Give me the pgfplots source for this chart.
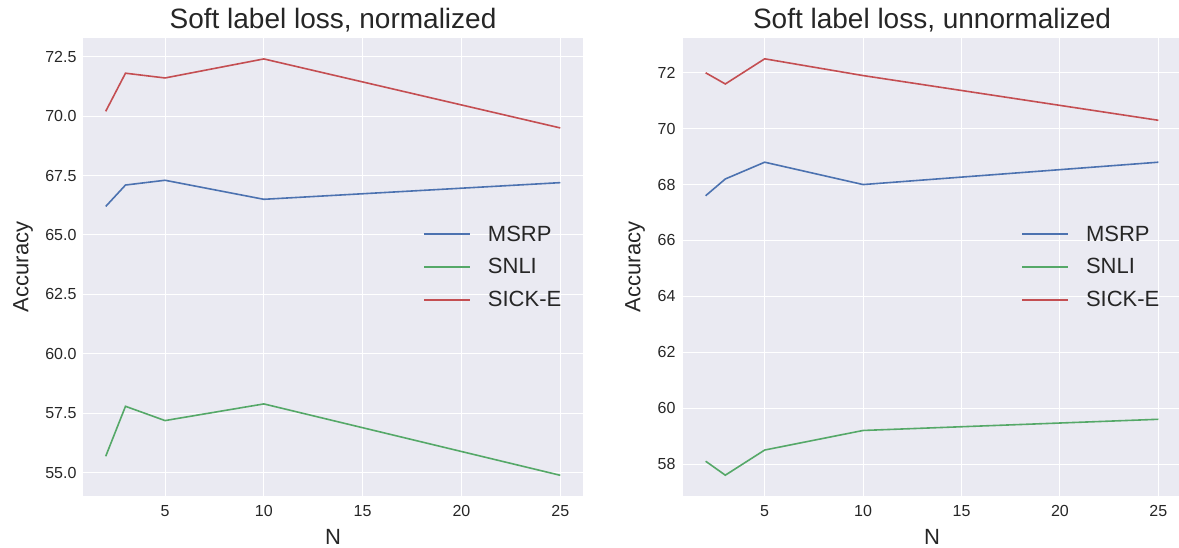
\documentclass[border=0pt]{standalone}
\usepackage{fontspec}
\setmainfont{Liberation Sans}
\usepackage{pgfplots}
\pgfplotsset{compat=1.18}
\definecolor{bg}{HTML}{EAEAF2}
\definecolor{sblue}{HTML}{4C72B0}
\definecolor{sgreen}{HTML}{55A868}
\definecolor{sred}{HTML}{C44E52}
\definecolor{txt}{HTML}{262626}

\pgfplotsset{
  sns/.style={
    scale only axis, height=458pt,
    axis background/.style={fill=bg},
    axis line style={draw=none},
    grid=major, major grid style={white, line width=1pt},
    tick style={draw=none},
    xtick={5,10,15,20,25},
    xmin=0.85, xmax=26.15,
    ticklabel style={font=\fontsize{16}{16}\selectfont, text=txt},
    xticklabel style={anchor=center, yshift=-15pt},
    yticklabel style={anchor=east, xshift=-3pt},
    /pgf/number format/assume math mode=true,
    xlabel=N, ylabel=Accuracy,
    every axis x label/.style={at={(0.5,0)}, anchor=center, yshift=-41pt,
      font=\fontsize{22}{22}\selectfont, text=txt},
    every axis title/.style={at={(0.5,1)}, anchor=center, yshift=18pt,
      font=\fontsize{28}{28}\selectfont, text=txt},
    legend style={at={(0.957,0.5)}, anchor=east, draw=none, fill=none,
      inner sep=0pt, nodes={inner xsep=0pt, inner ysep=2pt},
      font=\fontsize{22}{22}\selectfont, text=txt, row sep=12pt},
    legend cell align=left,
    legend image code/.code={\draw (0pt,0pt) -- (46pt,0pt); \path (63pt,0pt);},
    every axis plot/.append style={line width=1.6pt, no marks},
  },
  ylab/.style={every axis y label/.style={at={(0,0.5)}, xshift=#1, rotate=90,
      anchor=center, font=\fontsize{22}{22}\selectfont, text=txt}},
}

\begin{document}
\begin{tikzpicture}
\useasboundingbox (-83pt,-52pt) rectangle (1096pt,496pt);

\begin{axis}[sns, width=500pt, ylab=-60pt,
  title={Soft label loss, normalized},
  ymin=54.03, ymax=73.28,
  ytick={55,57.5,...,72.5},
  yticklabel style={/pgf/number format/.cd, fixed, fixed zerofill, precision=1},
]
\addplot[sblue] coordinates {(2,66.2) (3,67.1) (5,67.3) (10,66.5) (25,67.2)};
\addplot[sgreen] coordinates {(2,55.7) (3,57.8) (5,57.2) (10,57.9) (25,54.9)};
\addplot[sred] coordinates {(2,70.2) (3,71.8) (5,71.6) (10,72.4) (25,69.5)};
\legend{MSRP, SNLI, SICK-E}
\end{axis}

\begin{axis}[sns, at={(600pt,0pt)}, width=498pt, ylab=-48pt,
  title={Soft label loss, unnormalized},
  ymin=56.855, ymax=73.245,
  ytick={58,60,...,72},
  yticklabel style={xshift=-1pt},
]
\addplot[sblue] coordinates {(2,67.6) (3,68.2) (5,68.8) (10,68.0) (25,68.8)};
\addplot[sgreen] coordinates {(2,58.1) (3,57.6) (5,58.5) (10,59.2) (25,59.6)};
\addplot[sred] coordinates {(2,72.0) (3,71.6) (5,72.5) (10,71.9) (25,70.3)};
\legend{MSRP, SNLI, SICK-E}
\end{axis}
\end{tikzpicture}
\end{document}
